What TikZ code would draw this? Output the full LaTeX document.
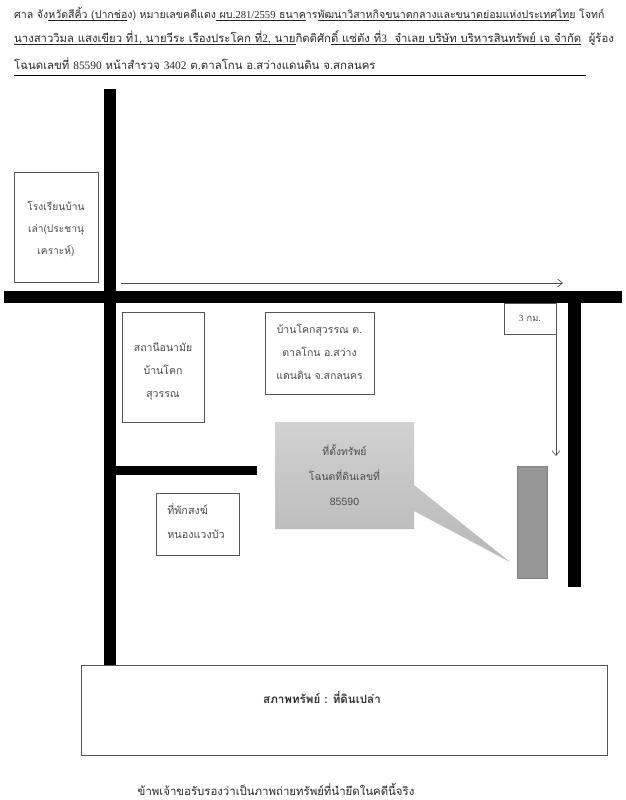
\documentclass[tikz,border=0pt]{standalone}
\usepackage{fontspec}
\setmainfont{Liberation Serif}
\setsansfont{Liberation Sans}
\newfontfamily\thaifont[Script=Thai]{Loma}
\usetikzlibrary{arrows.meta, positioning}

\newcommand{\lat}[1]{{\rmfamily #1}}
\newcommand{\ultxt}[1]{\underline{\smash{#1}}}

\definecolor{roadblack}{HTML}{000000}
\definecolor{labelgray}{HTML}{4A4A4A}
\definecolor{linegray}{HTML}{555555}

\tikzset{
  road/.style={line width=12.5pt, roadblack},
  landmark/.style={draw=linegray, line width=0.9pt, fill=white, inner sep=0pt},
  placetext/.style={inner sep=0pt, align=center, text=labelgray, font=\thaifont\fontsize{10.5}{23}\selectfont},
  headline/.style={anchor=west, inner sep=0pt, text=black!85, font=\thaifont\fontsize{#1}{12}\selectfont},
  guide/.style={draw=black!70, line width=0.6pt, -{Straight Barb[length=5pt,width=8pt]}},
}

\begin{document}
\begin{tikzpicture}[x=1pt,y=-1pt]
  \useasboundingbox (0,0) rectangle (625,800);
  % header
  \node[headline=10.6] (line one) at (14,15) {ศาล จัง\ultxt{หวัดสีคิ้ว (ปากช่อ}ง) หมายเลขคดีแดง\ultxt{ ผบ.\lat{281/2559} ธนาค}าร\ultxt{พัฒนาวิสาหกิจขนาดกลางและขนาดย่อมแห่งประเทศไท}ย โจทก์};
  \node[headline=11.3] (line two) at (14,39.5) {\ultxt{นางสาววิมล แสงเขียว ที่\lat{1}, นายวีระ เรืองประโคก ที่\lat{2}, นาย}กิตติศัก\ultxt{ดิ์ แซ่ตัง ที่\lat{3}\ \ จำเลย บริษัท บริหารสินทรัพย์ เจ จำกัด}\ \ ผู้ร้อง};
  \node[headline=11.4] (line three) at (14,63.5) {โฉนดเลขที่ \lat{85590} หน้าสำรวจ \lat{3402} ต.ตาลโกน อ.สว่างแดนดิน จ.สกลนคร};
  \coordinate (rule west) at (14,75.5);
  \coordinate (rule east) at (586,75.5);
  \draw[line width=0.7pt] (rule west) -- (rule east);

  % roads
  \coordinate (main north) at (110,89);
  \coordinate (main south) at (110,665);
  \coordinate (cross west) at (4,297);
  \coordinate (cross east) at (622,297);
  \coordinate (east north) at (574.5,297);
  \coordinate (east south) at (574.5,587);
  \coordinate (branch west) at (110,470);
  \coordinate (branch east) at (257,470);
  \draw[road] (main north) -- (main south);
  \draw[road] (cross west) -- (cross east);
  \draw[road] (east north) -- (east south);
  \draw[road, line width=9pt] (branch west) -- (branch east);

  % places
  \node[landmark, minimum width=84pt, minimum height=110pt] (school) at (56,227) {};
  \node[placetext, font=\thaifont\fontsize{10.2}{22}\selectfont] (school text) at (56,229) {โรงเรียนบ้าน\\เล่า(ประชานุ\\เคราะห์)};
  \node[landmark, minimum width=82pt, minimum height=110pt] (health) at (163,367) {};
  \node[placetext] (health text) at (163,371) {สถานีอนามัย\\บ้านโคก\\สุวรรณ};
  \node[landmark, minimum width=109pt, minimum height=82pt] (village) at (319.5,353) {};
  \node[placetext] (village text) at (319.5,352) {บ้านโคกสุวรรณ ต.\\ตาลโกน อ.สว่าง\\แดนดิน จ.สกลนคร};
  \node[landmark, minimum width=83pt, minimum height=62pt] (lodge) at (197.5,524) {};
  \node[placetext, align=left, font=\thaifont\fontsize{10.8}{24}\selectfont] (lodge text) at (196,520.5) {ที่พักสงฆ์\\หนองแวงบัว};

  % the plot and its callout
  \coordinate (callout tip) at (510,562);
  \coordinate (callout top) at (414,485);
  \coordinate (callout bottom) at (414,511);
  \coordinate (plot nw) at (275,422);
  \coordinate (plot ne) at (414,422);
  \coordinate (plot se) at (414,529);
  \coordinate (plot sw) at (275,529);
  \shade[top color=black!18, bottom color=black!28]
    (plot nw) -- (plot ne) -- (callout top) -- (callout tip) -- (callout bottom) -- (plot se) -- (plot sw) -- cycle;
  \node[align=center, text=labelgray, inner sep=0pt, font=\thaifont\fontsize{10.4}{25}\selectfont] (plot) at (344.5,475)
    {ที่ตั้งทรัพย์\\โฉนดที่ดินเลขที่\\{\sffamily\fontsize{10.5}{25}\selectfont 85590}};
  \node[draw=black!50, fill=black!41, minimum width=30pt, minimum height=112pt, inner sep=0pt] (land) at (532,522) {};

  % distance arrows
  \coordinate (arrow west) at (121,283);
  \coordinate (arrow corner) at (563,283);
  \coordinate (arrow top) at (556,303);
  \coordinate (arrow end) at (556,456);
  \draw[guide] (arrow west) -- (arrow corner);
  \draw[guide] (arrow top) -- (arrow end);
  \node[landmark, line width=0.7pt, minimum width=52pt, minimum height=31pt, text=labelgray, font=\thaifont\fontsize{9.3}{12}\selectfont] (distance) at (530,318.5) {\raisebox{-1.5pt}{\lat{3} กม.}};

  % status and certificate
  \node[draw=linegray, line width=1pt, fill=white, minimum width=526pt, minimum height=90pt] (status) at (344,710) {};
  \node[inner sep=0pt, text=black!80, font=\thaifont\bfseries\fontsize{11.6}{12}\selectfont] (status text) at (322,698) {สภาพทรัพย์ : ที่ดินเปล่า};
  \node[inner sep=0pt, text=black!85, font=\thaifont\fontsize{11.4}{12}\selectfont] (certify) at (276,789) {ข้าพเจ้าขอรับรองว่าเป็นภาพถ่ายทรัพย์ที่นำยึดในคดีนี้จริง};
\end{tikzpicture}
\end{document}
